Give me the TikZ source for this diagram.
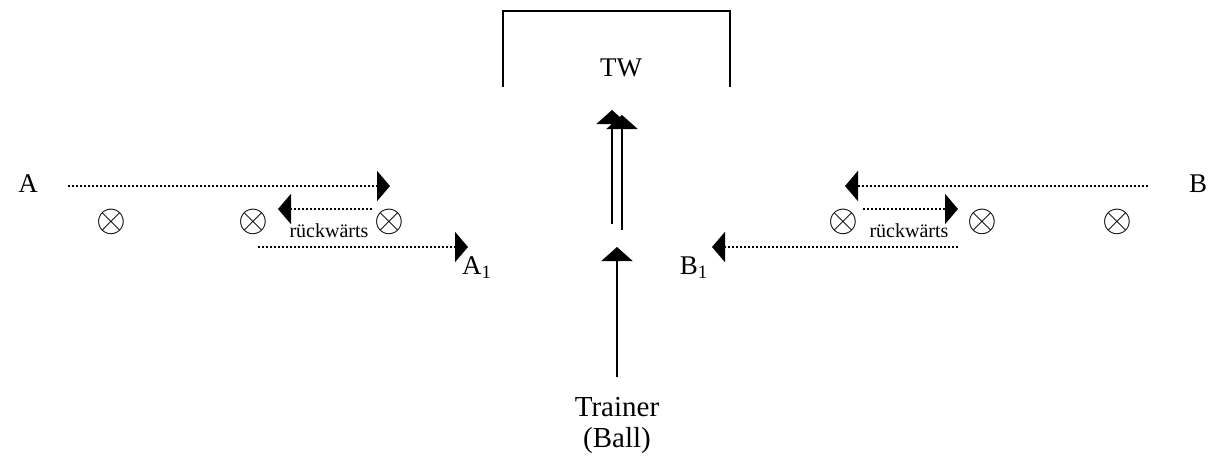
\documentclass[tikz,border=0pt]{standalone}
\usepackage{fontspec}
\setmainfont{Liberation Serif}
\usetikzlibrary{arrows.meta}
\begin{document}
\begin{tikzpicture}[x=1pt,y=-1pt,
  lbl/.style={inner sep=0pt,font=\fontsize{27}{31}\selectfont},
  small/.style={inner sep=0pt,font=\fontsize{20}{22}\selectfont},
  cross/.style={inner sep=0pt,font=\fontsize{20}{22}\selectfont},
  run/.style={line width=2.4pt,dash pattern=on 2.4pt off 1.6pt,-{Triangle[length=13pt,width=30pt]}},
  pass/.style={line width=2pt,-{Triangle[length=14pt,width=31pt]}}]
\useasboundingbox (0,0) rectangle (1216,461);
\newcommand{\crs}{\scalebox{1.85}{$\otimes$}}
% goal
\coordinate (g1) at (503,87);
\coordinate (g2) at (503,11);
\coordinate (g3) at (730,11);
\coordinate (g4) at (730,87);
\draw[line width=2pt] (g1) -- (g2) -- (g3) -- (g4);
\node[lbl] (tw) at (621,68) {TW};
% labels
\node[lbl] (A) at (28,184) {A};
\node[lbl] (B) at (1198,184) {B};
\node[lbl,anchor=west] (A1) at (462,268) {A\textsubscript{1}};
\node[lbl,anchor=east] (B1) at (708,268) {B\textsubscript{1}};
\node[lbl,align=center,font=\fontsize{29}{31}\selectfont] (tr) at (617,425) {Trainer\\(Ball)};
% crosses
\node[cross] (c1) at (111,222) {\crs};
\node[cross] (c2) at (253,222) {\crs};
\node[cross] (c3) at (389,222) {\crs};
\node[cross] (c4) at (843,222) {\crs};
\node[cross] (c5) at (982,222) {\crs};
\node[cross] (c6) at (1117,222) {\crs};
\node[small] (r1) at (329,231) {rückwärts};
\node[small] (r2) at (909,231) {rückwärts};
% runs
\coordinate (a0) at (68,186);   \coordinate (a1) at (390,186);
\coordinate (a2) at (372,209);  \coordinate (a3) at (278,209);
\coordinate (a4) at (258,247);  \coordinate (a5) at (468,247);
\draw[run] (a0) -- (a1);
\draw[run] (a2) -- (a3);
\draw[run] (a4) -- (a5);
\coordinate (b0) at (1148,186); \coordinate (b1) at (845,186);
\coordinate (b2) at (863,209);  \coordinate (b3) at (958,209);
\coordinate (b4) at (958,247);  \coordinate (b5) at (712,247);
\draw[run] (b0) -- (b1);
\draw[run] (b2) -- (b3);
\draw[run] (b4) -- (b5);
% passes
\coordinate (p0) at (617,377); \coordinate (p1) at (617,247);
\draw[pass] (p0) -- (p1);
\coordinate (q0) at (612,224); \coordinate (q1) at (612,110);
\coordinate (s0) at (622,230); \coordinate (s1) at (622,115);
\draw[pass] (q0) -- (q1);
\draw[pass] (s0) -- (s1);
\end{tikzpicture}
\end{document}
